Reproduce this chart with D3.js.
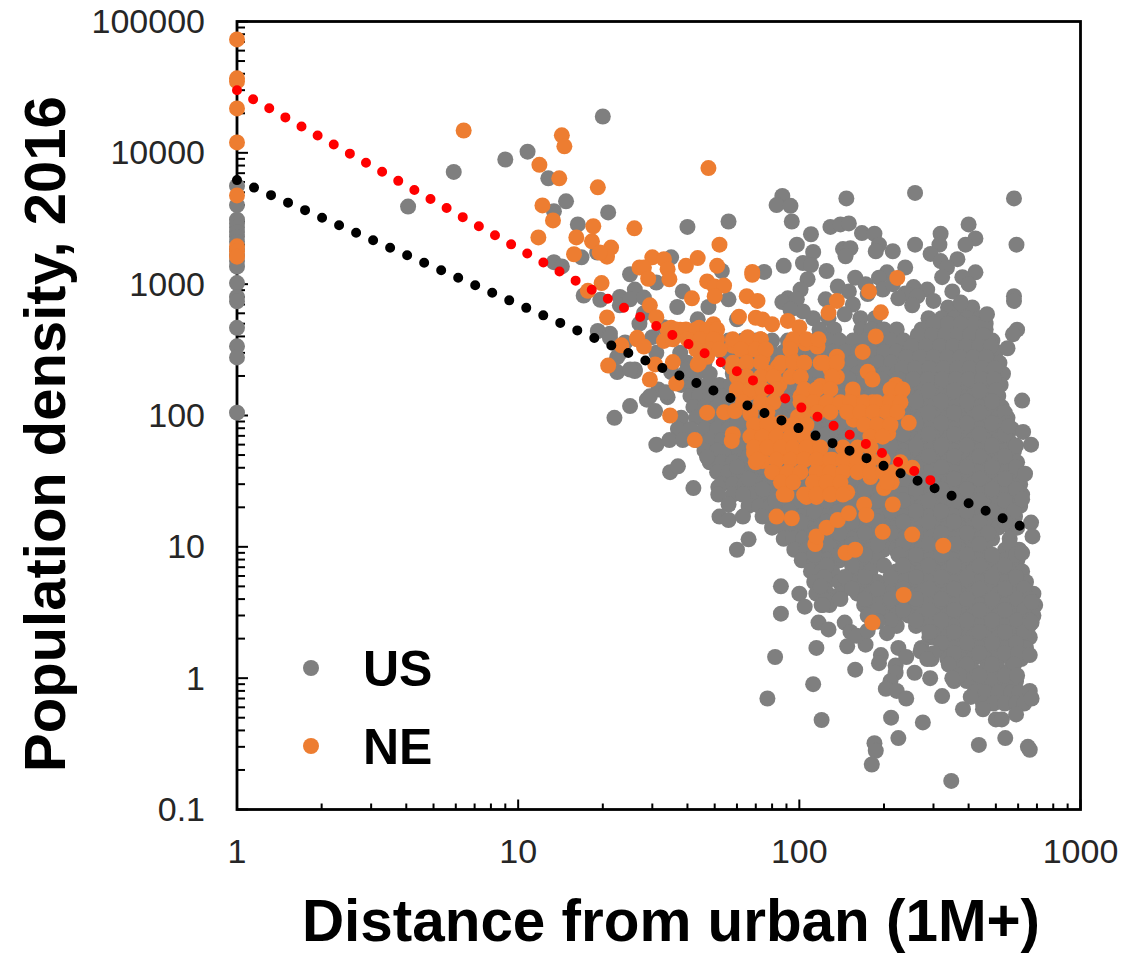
<!DOCTYPE html>
<html><head><meta charset="utf-8">
<script src="https://cdnjs.cloudflare.com/ajax/libs/d3/7.8.5/d3.min.js"></script>
<style>html,body{margin:0;padding:0;background:#fff}svg{display:block}text{font-family:"Liberation Sans",Arial,sans-serif}</style>
</head><body><svg id="c" width="1147" height="954"></svg>
<script>
const xTickLabels=[1,10,100,1000];
const yTickLabels=[0.1,1,10,100,1000,10000,100000];
const xTitle="Distance from urban (1M+)";
const yTitle="Population density, 2016";
const legendNames=["US","NE"];
const trendNE=[[1,30000],[310,30]];
const trendUS=[[1,6200],[680,13]];

const usAxis=[[1,5600],[1,4000],[1,3100],[1,2900],[1,2700],[1,2500],[1,2300],[1,2100],[1,1850],[1,1650],[1,1500],[1,1360],[1,1020],[1,800],[1,740],[1,465],[1,336],[1,277],[1,105]];
const usLeft=[[20,18900],[10.8,10200],[9,8900],[5.9,7150],[4.06,3900],[12.8,6400],[14.8,4270],[13.4,3590],[20.9,3520],[16.3,2850],[13.4,1470],[14.3,1365],[16.8,1600],[19.1,1740],[17.1,820],[19.6,760],[23,800],[25,1190],[26,910],[19.2,440],[21.2,420],[22.5,278],[22.5,214],[26,224],[25,118],[22,96],[30.7,108],[28.7,132],[34,138],[31,60],[34.5,65],[38.5,65],[34.7,37],[37,41],[42,28],[51.5,28.5],[51.5,25],[47,48],[56,21],[31,1030],[35,1600],[38.5,880],[36.8,670],[43.5,540],[47.5,670],[56,766],[60,540],[21.2,390],[23,300],[26,218],[31.5,158],[29.4,140],[33.5,150],[28,600],[23,690],[25,766],[28,790],[30,395],[31,300],[37.7,300],[40,224],[35,214],[25,224],[27,500],[33,470],[40,420],[24,360]];
const usUpper=[[87,4700],[83,4000],[93,3950],[94,3000],[147,4500],[258,4950],[580,4500],[592,2000],[40,2730],[56,3000],[129,2730],[140,2850],[150,2900],[167,2450],[185,2420],[192,2000],[187,1780],[110,2400],[98,2000],[112,1760],[103,1450],[110,1400],[125,1260],[88,1380],[75,1240],[53,1260],[143,1850],[152,1880],[146,1630],[215,1780],[258,2000],[318,2420],[315,2000],[400,2850],[423,2230],[390,2000],[293,1700],[318,1500],[365,1550],[335,1340],[322,1130],[423,1230],[380,1130],[400,1000],[238,1340],[205,1230],[192,1120],[158,1120],[137,960],[150,880],[198,910],[107,1090],[101,910],[91,780],[87,730],[98,766],[124,766],[155,700],[255,950],[285,910],[238,850],[263,810],[300,745],[252,690],[350,880],[375,725],[580,810],[580,745],[465,590],[595,450],[575,415],[550,325],[103,620],[93,640],[145,590],[172,1000],[215,1000],[225,780],[175,840]];
const usRight=[[620,130],[555,83],[625,75],[667,60],[635,36],[620,23],[667,15.3],[675,12],[620,9],[670,3.8],[670,2.65],[660,1.5],[660,0.8],[670,0.7]];
const usLower=[[66,11.4],[60,9.5],[52,17],[56,16],[63,17],[63,25],[86,5],[100,4.4],[104.5,3.5],[121,3.6],[119,5],[86,3.1],[117,2.65],[127,2.35],[145,2.65],[152,2.25],[148,1.75],[172,1.8],[195,1.5],[192,1.3],[115,1.7],[82,1.45],[158,1.16],[112,0.9],[77,0.7],[120,0.48],[212,0.5],[275,0.46],[225,0.35],[185,0.32],[187,0.28],[181,0.22],[347,0.165],[435,0.31],[540,0.35],[650,0.3],[660,0.285],[220,1.25],[220,1.1],[211,0.95],[203,0.83],[222,0.8],[240,0.7],[257,1.1],[292,1],[322,0.73],[350,1],[382,0.58],[407,0.72],[450,0.58],[500,0.485],[525,0.485],[590,0.53],[160,2.1],[175,2.3],[190,2.7],[205,2.2],[225,1.7],[240,1.45],[270,1.6],[285,1.4]];

const usCoreDensity=[665,550,452,372,306,252,208,171,141,116,96,79,65,54,44,37,30,25,20.5,17,14,11.5,9.5,7.9,6.5,5.4,4.4,3.6,3,2.5,2.05,1.7,1.4,1.15,0.95,0.78,0.64];
const usCoreDistance=[
[338,372,412],
[288,321,356,395,438,112,127,165,186],
[272,304,337,374,415,460,118,133,166,180,200,222],
[50,56,63,70,80,91,103,114,126,139,155,172,190,212,235,260,289,321,356,395,437,486],
[53,59,65,72,79,88,96,107,119,132,146,162,180,200,222,246,273,305,338,375,416,460,500],
[40,46,56,61,67,75,84,92,103,113,126,140,155,171,191,212,235,261,288,320,356,395,438,486,515],
[39,43,48,58,64,71,79,87,97,107,118,132,146,161,180,200,222,246,272,304,337,374,414,460,510,530],
[38,42,47,52,57,62,67,74,83,92,102,113,125,139,154,171,190,211,234,260,288,320,355,394,437,485,520],
[41,44,48,53,58,64,71,78,87,96,106,118,131,145,161,179,199,221,245,272,303,336,373,414,459,510],
[42,46,51,56,61,67,74,83,92,102,113,125,139,154,171,190,211,234,260,288,320,355,394,437,485,525],
[38,43,48,53,58,64,71,78,87,96,106,118,131,145,161,179,199,221,245,272,303,336,373,414,459,510,550],
[37,41,46,51,56,61,67,74,83,92,102,113,125,139,154,171,190,211,234,260,288,320,355,394,437,485,538,570],
[43,48,53,58,64,71,78,87,96,106,118,131,145,161,179,199,221,245,272,303,336,373,414,459,510,555],
[46,51,56,61,67,74,83,92,102,113,125,139,154,171,190,211,234,260,288,320,355,394,437,485,538,580],
[48,53,58,64,71,78,87,96,106,118,131,145,161,179,199,221,245,272,303,336,373,414,459,510,566,595],
[51,56,61,67,74,83,92,102,113,125,139,154,171,190,211,234,260,288,320,355,394,437,485,538,590],
[53,58,64,71,78,87,96,106,118,131,145,161,179,199,221,245,272,303,336,373,414,459,510,566,610],
[58,63,68,75,83,92,102,113,125,139,154,171,190,211,234,260,288,320,355,394,437,485,538,596,620],
[66,72,79,87,96,106,118,131,145,161,179,199,221,245,272,303,336,373,414,459,510,566,610],
[74,83,92,102,113,125,139,154,171,190,211,234,260,288,320,355,394,437,485,538,585],
[80,88,97,107,118,131,145,161,179,199,221,245,272,303,336,373,414,459,510,566,595],
[88,95,103,113,125,139,154,171,190,211,234,260,288,320,355,394,437,485,560],
[96,106,118,131,145,161,179,199,221,245,272,303,336,373,414,459,540,575,605],
[102,113,125,139,154,171,190,234,260,288,320,355,394,437,485,538,596],
[110,120,131,161,179,221,245,272,303,336,373,414,459,510,566,620],
[113,125,139,154,171,190,211,234,260,288,320,355,394,437,485,538,596,640],
[115,126,140,161,179,199,221,245,272,303,336,373,414,459,510,566,628,680],
[120,128,170,190,211,234,260,288,320,355,394,437,485,538,596,662,690],
[175,199,221,245,272,303,336,373,414,459,510,566,628,680],
[222,260,288,320,355,394,437,485,538,596,655],
[290,303,336,373,414,459,510,566,620,660],
[272,320,355,394,437,485,538,596,640],
[295,336,373,414,459,510,566,615],
[375,414,459,510,560],
[355,394,437,485,538,590],
[420,459,510,566,605],
[450,490,538,590,630]];

const usFillDensity=[500,410,338,278,229,189,155,128,105,87,72,59,49,40.5,33,27.5,22.5,18.7,15.5,12.7,10.5,8.7,7.2,5.9,4.8,4,3.3,2.75,2.25,1.85,1.55,1.27,1.05];
const usFillDistance=[
[300,338,375,420,460],
[264,296,330,366,405,450],
[250,282,316,352,392,436,480],
[240,268,300,336,374,416,462],
[232,258,290,326,364,404,450,495],
[150,170,196,226,254,286,322,360,400,446,492],
[66,82,101,125,154,190,234,288,355,437,500],
[60,74,92,113,139,171,211,260,320,394,485],
[66,82,101,125,154,190,234,288,355,437,538],
[60,74,92,113,139,171,211,260,320,394,485,545],
[66,82,101,125,154,190,234,288,355,437,538],
[60,74,92,113,139,171,211,260,320,394,485,590],
[66,82,101,125,154,190,234,288,355,437,538],
[60,74,92,113,139,171,211,260,320,394,485,590],
[66,82,101,125,154,190,234,288,355,437,538],
[74,92,113,139,171,211,260,320,394,485,590],
[82,101,125,154,190,234,288,355,437,538],
[92,113,139,171,211,260,320,394,485,580],
[101,125,154,190,234,288,355,437,538],
[113,139,171,211,260,320,394,470],
[125,154,190,234,288,355,437,560],
[113,139,171,225,260,320,394,485,590],
[125,154,200,234,288,355,437,538],
[123,145,171,211,260,320,394,485,590],
[122,154,190,234,288,355,437,538,630],
[122,140,171,211,260,320,394,485,596,660],
[190,234,288,355,437,538,630],
[211,260,320,394,485,596,660],
[290,355,437,538,630],
[320,394,485,590],
[300,355,437,538,600],
[340,394,485,580],
[370,437,538,595]];

const neAxis=[[1,73000],[1,36900],[1,35000],[1,21800],[1,12000],[1,4740],[1,1940],[1,1780],[1,1620]];
const neUpper=[[6.4,14800],[14.3,13600],[14.6,11200],[11.9,8100],[14,6400],[19.2,5460],[12.2,3980],[13.3,3060],[18.5,2760],[25.9,2660],[11.8,2270],[16.1,2270],[18.3,2120],[15.8,1690],[21.4,1900],[20.7,1620],[19.5,1740],[19.8,1020],[17.7,890],[20.7,558],[23.3,342],[20.9,240],[26.5,380],[27,1340],[47.5,7650],[52,2000],[30,1600],[33,1550],[28,1340],[34,1300],[34.5,1090],[29,1100],[39.5,1380],[43.5,1580],[51,1380],[68,1240],[47,1050],[50,960],[54,975],[50,810],[65,810],[71,745],[41.5,780],[29.4,690],[136,745],[177,880],[223,1115],[127,605],[195,610],[68,1180]];
const neMiddle=[[61,565],[70,555],[74,539],[80,495],[91,525],[100,470],[187,400],[168,305],[31,560],[35,465],[37.7,450],[44,465],[49.5,495],[47,395],[51,380],[43.5,318],[43.5,245],[47,280],[33,370],[26.5,390],[28,335],[30.7,245],[29.4,188],[35.5,255],[36.5,175],[34.7,100],[58,340],[65.5,395],[72.8,380],[67,318],[74,275],[58,232],[84,235],[93,350],[105,355],[116,335],[94,265],[104,252],[101,197],[119,252],[136,280],[129,225],[136,197],[175,215],[182,188],[62.5,180],[60,158],[67,150],[74,158],[77,212],[85,172]];
const neLower=[[47,105],[54,106],[59,108],[67,102],[42.5,65],[58,72],[57.5,64],[101,140],[119,168],[112,132],[126,126],[129,118],[155,140],[146,118],[165,105],[182,126],[156,93],[220,171],[229,150],[211,132],[198,111],[215,106],[245,88],[195,82],[207,73],[183,69],[99,98],[86,88],[95,74],[77,93],[69,74],[71,63],[81,74],[70,44],[74,45],[69,52],[81,55],[87,49],[98,53],[104,46],[110,58],[83,37],[93,35],[119,49],[121,42],[131,46],[148,42],[165,39],[179,34],[200,28],[213,31],[229,44],[252,40],[112,31],[125,29],[106,24],[115,24],[136,27],[148,26],[90,25],[170,21],[215,21],[83,17],[94,16.5],[114,10.5],[115,12],[125,14],[137,16],[150,18],[146,9],[158,9.5],[198,13],[252,12.4],[325,10.2],[235,4.3],[182,2.65],[173,17.5]];
const neMassDensity=[452,380,318,252,197,158,126,106,85,69,57,46,37,31,25];
const neMassDistance=[
[34,36.5,39.5,43,47,51],
[35.5,40,44.4,49.5,58,65,73,95,106,117],
[43,48,52,62,70,76,93],
[44,58,65,73,86,95,104,122,136],
[60,65,73,81,93,101,131],
[60,67,74,83,104,115,129,155,211,233],
[63,73,81,101,112,125,140,152,170,189,211,229],
[67,77,104,116,129,148,165,183,205,223],
[69,77,86,95,106,170,189,211],
[67,74,83,93,104,179,198],
[69,77,86,95,106,119,143,161,179],
[71,83,93,104,115,129,143,161,179,198],
[80,91,101,115,129,143,161,179,198,215],
[86,95,112,125,140,205],
[88,104,115,129,143]];

const usCore=usCoreDensity.flatMap((d,i)=>usCoreDistance[i].map(x=>[x,d]));
const usFill=usFillDensity.flatMap((d,i)=>usFillDistance[i].map(x=>[x,d]));
const neMass=neMassDensity.flatMap((d,i)=>neMassDistance[i].map(x=>[x,d]));
const usPoints=[].concat(usCore,usFill,usAxis,usLeft,usUpper,usRight,usLower);
const nePoints=[].concat(neAxis,neUpper,neMiddle,neLower,neMass);

const svg=d3.select("#c");
const x=d3.scaleLog().domain([1,1000]).range([237,1080.5]);
const y=d3.scaleLog().domain([0.1,100000]).range([809.5,21.5]);
const grey="#7f7f7f",orange="#ed7d31",R=8;

function minors(dom){const out=[];for(let d=dom[0];d<dom[1]-1e-9;d*=10)for(let k=2;k<=9;k++)out.push(d*k);return out;}
const axisG=svg.append("g");
axisG.selectAll(".yminor").data(minors(y.domain())).join("line").attr("x1",x(1)).attr("x2",x(1)+8).attr("y1",d=>y(d)).attr("y2",d=>y(d)).attr("stroke","#000").attr("stroke-width",2);
axisG.selectAll(".ymajor").data(yTickLabels).join("line").attr("x1",x(1)).attr("x2",x(1)+11).attr("y1",d=>y(d)).attr("y2",d=>y(d)).attr("stroke","#000").attr("stroke-width",2);
axisG.selectAll(".xminor").data(minors(x.domain())).join("line").attr("y1",y(0.1)).attr("y2",y(0.1)-6).attr("x1",d=>x(d)).attr("x2",d=>x(d)).attr("stroke","#000").attr("stroke-width",2);
axisG.selectAll(".xmajor").data(xTickLabels).join("line").attr("y1",y(0.1)).attr("y2",y(0.1)-10).attr("x1",d=>x(d)).attr("x2",d=>x(d)).attr("stroke","#000").attr("stroke-width",2);
axisG.append("rect").attr("x",x(1)).attr("y",y(100000)).attr("width",x(1000)-x(1)).attr("height",y(0.1)-y(100000)).attr("fill","none").attr("stroke","#000").attr("stroke-width",2.8);

svg.append("g").selectAll("circle").data(usPoints).join("circle").attr("cx",d=>x(d[0])).attr("cy",d=>y(d[1])).attr("r",R).attr("fill",grey);
svg.append("g").selectAll("circle").data(nePoints).join("circle").attr("cx",d=>x(d[0])).attr("cy",d=>y(d[1])).attr("r",R).attr("fill",orange);

const line=d3.line().x(d=>x(d[0])).y(d=>y(d[1]));
svg.append("path").attr("d",line(trendUS)).attr("fill","none").attr("stroke","#000").attr("stroke-width",10).attr("stroke-linecap","round").attr("stroke-dasharray","0 18.6");
svg.append("path").attr("d",line(trendNE)).attr("fill","none").attr("stroke","#ff0000").attr("stroke-width",10).attr("stroke-linecap","round").attr("stroke-dasharray","0 18.5");

svg.append("g").selectAll("text").data(yTickLabels).join("text").attr("x",205).attr("y",d=>y(d)+11.5).attr("text-anchor","end").attr("font-size",34).attr("fill","#262626").text(d=>String(d));
svg.append("g").selectAll("text").data(xTickLabels).join("text").attr("x",d=>x(d)).attr("y",863).attr("text-anchor","middle").attr("font-size",34).attr("fill","#262626").text(d=>String(d));

svg.append("text").attr("x",671).attr("y",941).attr("text-anchor","middle").attr("font-size",58.4).attr("font-weight","bold").attr("fill","#000").text(xTitle);
svg.append("text").attr("transform","translate(65,434) rotate(-90)").attr("text-anchor","middle").attr("font-size",58).attr("font-weight","bold").attr("fill","#000").text(yTitle);

const legY=[668,746],legC=[grey,orange];
legendNames.forEach((n,i)=>{
  svg.append("circle").attr("cx",311).attr("cy",legY[i]).attr("r",8).attr("fill",legC[i]);
  svg.append("text").attr("x",363).attr("y",legY[i]+18).attr("font-size",50).attr("font-weight","bold").attr("fill","#000").text(n);
});
</script></body></html>
